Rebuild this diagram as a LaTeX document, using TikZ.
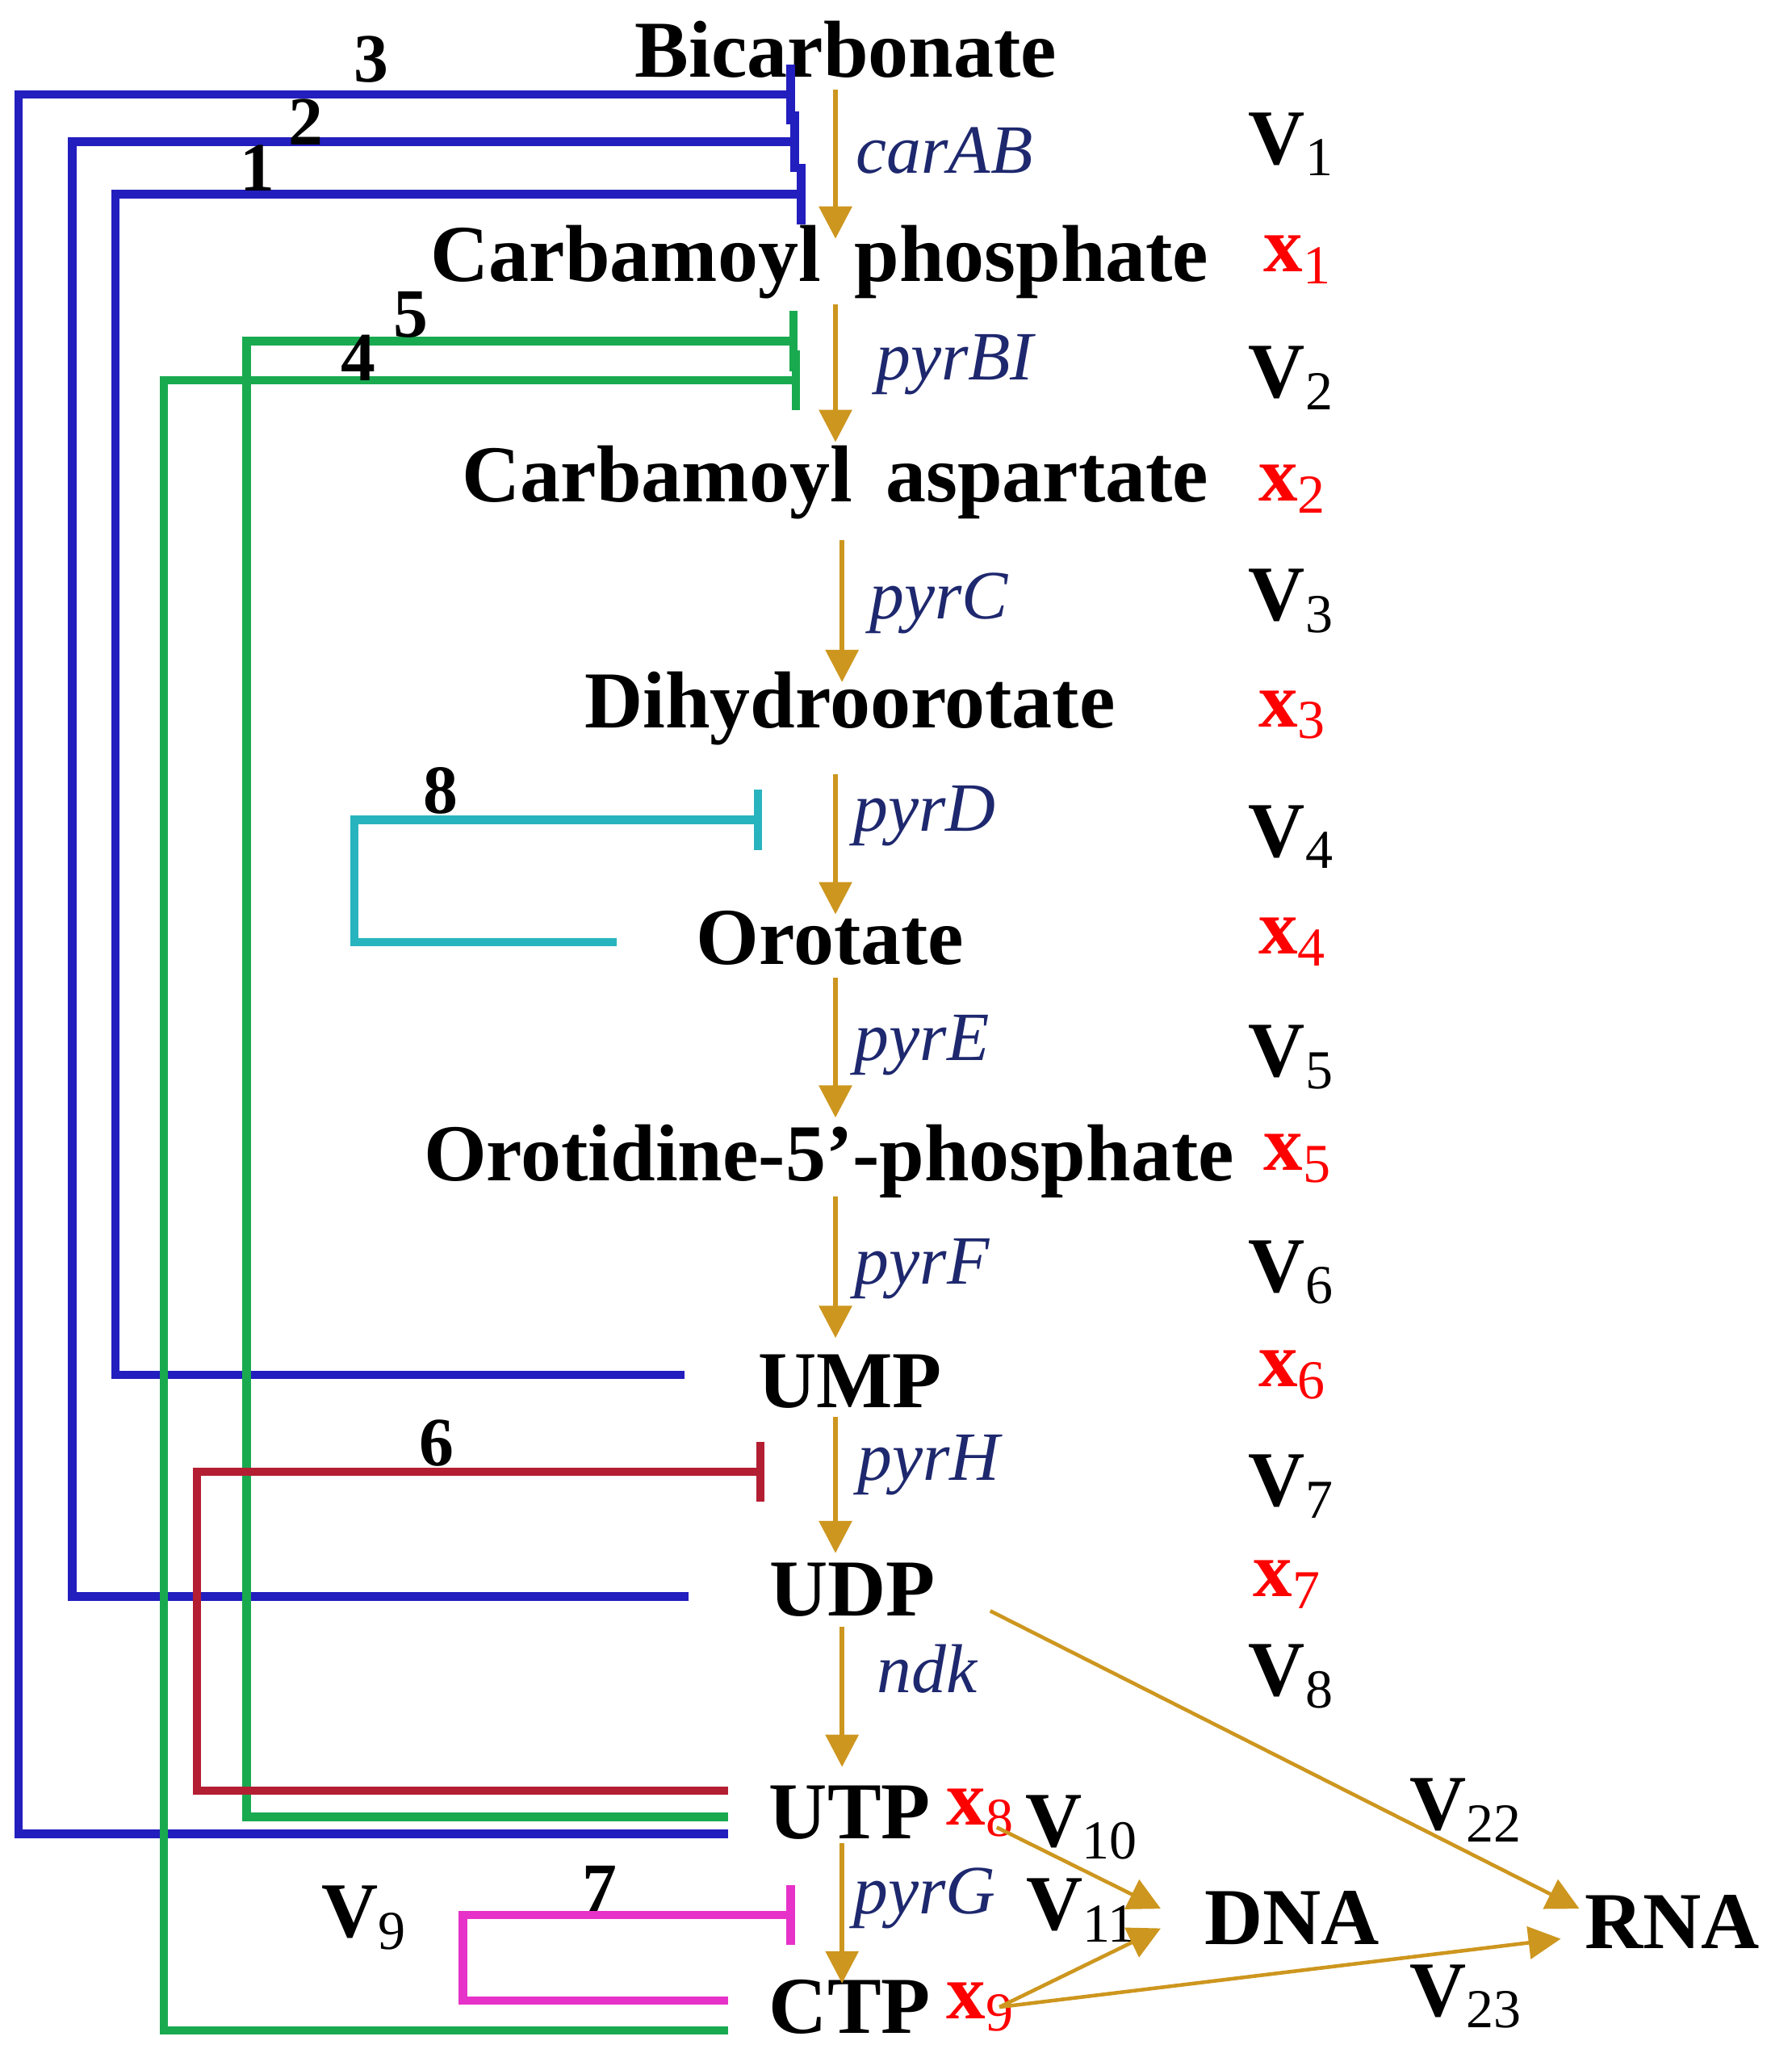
\documentclass[tikz,border=0pt]{standalone}
\usepackage{fontspec}
\setmainfont{Liberation Serif}
\usetikzlibrary{arrows.meta}
\definecolor{gold}{RGB}{205,150,30}
\definecolor{navy}{RGB}{30,40,110}
\definecolor{iblue}{RGB}{35,30,190}
\definecolor{igreen}{RGB}{25,170,80}
\definecolor{icyan}{RGB}{40,180,190}
\definecolor{ired}{RGB}{180,30,50}
\definecolor{imag}{RGB}{230,50,200}
\newcommand{\sbs}[1]{\textsubscript{\normalfont #1}}
\begin{document}
\begin{tikzpicture}[x=0.01cm,y=-0.01cm,
 met/.style={font=\fontsize{17.5}{21}\selectfont\bfseries, inner sep=1pt},
 gene/.style={font=\fontsize{15}{18}\selectfont\itshape, text=navy},
 vl/.style={font=\fontsize{17}{20}\selectfont\bfseries},
 xl/.style={font=\fontsize{17}{20}\selectfont\bfseries, text=red},
 num/.style={font=\fontsize{15}{18}\selectfont\bfseries},
 rx/.style={gold, line width=1.1pt, -{Triangle[length=7pt,width=7pt]}},
 thin/.style={gold, line width=0.8pt, -{Triangle[length=7pt,width=7pt]}},
 inh/.style={line width=1.8pt, -{Bar[width=13pt]}}]
\useasboundingbox (0,0) rectangle (1366,1578);
\node[met] (bic) at (645,38) {Bicarbonate};
\node[met] (cp) at (625,200) {Carbamoyl\, phosphate};
\node[met] (ca) at (637,368) {Carbamoyl\, aspartate};
\node[met] (dh) at (648,540) {Dihydroorotate};
\node[met] (oro) at (633,715) {Orotate};
\node[met] (omp) at (632,885) {Orotidine-5’-phosphate};
\node[met] (ump) at (648,1053) {UMP};
\node[met] (udp) at (650,1212) {UDP};
\node[met] (utp) at (648,1382) {UTP};
\node[met] (ctp) at (648,1530) {CTP};
\node[met] (dna) at (985,1462) {DNA};
\node[met] (rna) at (1275,1465) {RNA};
% main arrows
\draw[rx] (637,68) -- (637,182);
\draw[rx] (637,232) -- (637,337);
\draw[rx] (642,412) -- (642,520);
\draw[rx] (637,590) -- (637,697);
\draw[rx] (637,745) -- (637,852);
\draw[rx] (637,912) -- (637,1020);
\draw[rx] (637,1080) -- (637,1184);
\draw[rx] (642,1240) -- (642,1347);
\draw[rx] (642,1405) -- (642,1512);
% genes
\node[gene] (g1) at (720,115) {carAB};
\node[gene] (g2) at (728,278) {pyrBI};
\node[gene] (g3) at (716,460) {pyrC};
\node[gene] (g4) at (705,622) {pyrD};
\node[gene] (g5) at (703,797) {pyrE};
\node[gene] (g6) at (703,967) {pyrF};
\node[gene] (g7) at (708,1117) {pyrH};
\node[gene] (g8) at (707,1272) {ndk};
\node[gene] (g9) at (705,1447) {pyrG};
% V labels
\node[vl] (v1) at (985,110) {V\sbs{1}};
\node[vl] (v2) at (985,288) {V\sbs{2}};
\node[vl] (v3) at (985,458) {V\sbs{3}};
\node[vl] (v4) at (985,638) {V\sbs{4}};
\node[vl] (v5) at (985,806) {V\sbs{5}};
\node[vl] (v6) at (985,970) {V\sbs{6}};
\node[vl] (v7) at (985,1133) {V\sbs{7}};
\node[vl] (v8) at (985,1278) {V\sbs{8}};
\node[vl] (v9) at (278,1462) {V\sbs{9}};
\node[vl] (v10) at (825,1393) {V\sbs{10}};
\node[vl] (v11) at (825,1456) {V\sbs{11}};
\node[vl] (v22) at (1118,1380) {V\sbs{22}};
\node[vl] (v23) at (1118,1522) {V\sbs{23}};
% x labels
\node[xl] (x1) at (990,198) {x\sbs{1}};
\node[xl] (x2) at (986,373) {x\sbs{2}};
\node[xl] (x3) at (986,545) {x\sbs{3}};
\node[xl] (x4) at (986,718) {x\sbs{4}};
\node[xl] (x5) at (990,883) {x\sbs{5}};
\node[xl] (x6) at (986,1048) {x\sbs{6}};
\node[xl] (x7) at (982,1208) {x\sbs{7}};
\node[xl] (x8) at (748,1382) {x\sbs{8}};
\node[xl] (x9) at (748,1530) {x\sbs{9}};
% yellow side arrows
\coordinate (udpR) at (755,1228);
\coordinate (x8R) at (760,1393);
\coordinate (x9R) at (762,1530);
\draw[thin] (udpR) -- (rna.west |- 0,1455);
\draw[thin] (x8R) -- (885,1455);
\draw[thin] (x9R) -- (885,1470);
\draw[thin] (x9R) -- (1190,1478);
% inhibitions
\draw[inh,iblue] (555,1398) -- (14,1398) -- (14,72) -- (606,72);
\draw[inh,iblue] (525,1217) -- (55,1217) -- (55,108) -- (609,108);
\draw[inh,iblue] (522,1048) -- (88,1048) -- (88,148) -- (614,148);
\draw[inh,igreen] (555,1385) -- (188,1385) -- (188,260) -- (608,260);
\draw[inh,igreen] (555,1548) -- (125,1548) -- (125,290) -- (610,290);
\draw[inh,icyan] (470,718) -- (270,718) -- (270,625) -- (581,625);
\draw[inh,ired] (555,1365) -- (150,1365) -- (150,1122) -- (583,1122);
\draw[inh,imag] (555,1525) -- (353,1525) -- (353,1460) -- (606,1460);
\node[num] (n3) at (283,45) {3};
\node[num] (n2) at (233,93) {2};
\node[num] (n1) at (196,128) {1};
\node[num] (n5) at (313,240) {5};
\node[num] (n4) at (273,273) {4};
\node[num] (n8) at (336,603) {8};
\node[num] (n6) at (333,1100) {6};
\node[num] (n7) at (457,1440) {7};
\end{tikzpicture}
\end{document}
